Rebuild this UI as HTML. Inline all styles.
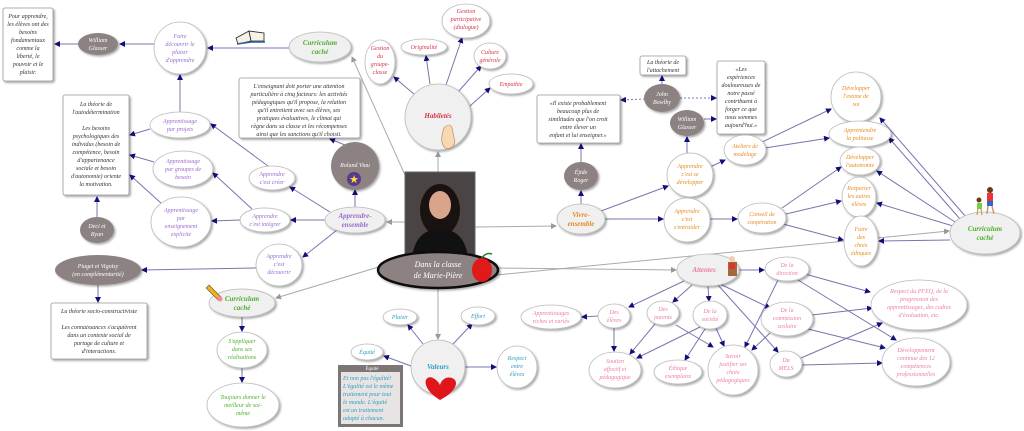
<!DOCTYPE html>
<html><head><meta charset="utf-8"><style>
html,body{margin:0;padding:0;background:#fff;}
svg{display:block}
text{font-family:"Liberation Serif",serif;font-style:italic;font-size:6px;text-anchor:middle}
.e{stroke:#7a74ae;stroke-width:1;fill:none}
.g{stroke:#aaa;stroke-width:1;fill:none}
.n{fill:#fff;stroke:#bbb;stroke-width:.8;filter:url(#sh)}
.m{fill:#f0f0f0;stroke:#bbb;stroke-width:.8;filter:url(#sh)}
.d{fill:#8c8282;filter:url(#sh)}
.b{fill:#fff;stroke:#999;stroke-width:.8;filter:url(#sh)}
.pu{fill:#9a6ad0}.re{fill:#d6324a}.or{fill:#e58a1c}.gr{fill:#4caf2a}.te{fill:#2e9cbf}.pk{fill:#ec7ca3}.w{fill:#fff}.k{fill:#333}
</style></head><body>
<svg width="1024" height="431" viewBox="0 0 1024 431" xmlns="http://www.w3.org/2000/svg">
<defs>
<filter id="sh" x="-20%" y="-20%" width="150%" height="150%"><feDropShadow dx="1.5" dy="1.5" stdDeviation="1" flood-color="#000" flood-opacity=".35"/></filter>
<marker id="a" markerWidth="6" markerHeight="6" refX="5" refY="3" orient="auto"><path d="M0,0L6,3L0,6z" fill="#10107a"/></marker>
<marker id="ga" markerWidth="6" markerHeight="6" refX="5" refY="3" orient="auto"><path d="M0,0L6,3L0,6z" fill="#999"/></marker>
</defs>

<g class="g" marker-end="url(#ga)">
<line x1="405" y1="222" x2="387" y2="222"/>
<line x1="395" y1="262" x2="276" y2="298"/>
<line x1="405" y1="175" x2="352" y2="57"/>
<line x1="438" y1="172" x2="438" y2="152"/>
<line x1="438" y1="288" x2="438" y2="339"/>
<line x1="475" y1="227" x2="556" y2="226"/>
<line x1="498" y1="268" x2="676" y2="270"/>
<line x1="496" y1="275" x2="949" y2="231"/>
</g>

<g class="e" marker-end="url(#a)">
<line x1="118" y1="44" x2="55" y2="44"/>
<line x1="154" y1="44" x2="120" y2="44"/>
<line x1="289" y1="48" x2="208" y2="48"/>
<line x1="180" y1="112" x2="180" y2="75"/>
<line x1="150" y1="129" x2="130" y2="135"/>
<line x1="154" y1="162" x2="130" y2="155"/>
<line x1="162" y1="204" x2="130" y2="175"/>
<line x1="97" y1="217" x2="97" y2="197"/>
<line x1="268" y1="166" x2="211" y2="124"/>
<line x1="252" y1="209" x2="213" y2="173"/>
<line x1="240" y1="220" x2="212" y2="221"/>
<line x1="330" y1="212" x2="290" y2="187"/>
<line x1="325" y1="220" x2="291" y2="220"/>
<line x1="337" y1="230" x2="303" y2="257"/>
<line x1="355" y1="207" x2="355" y2="190"/>
<line x1="345" y1="145" x2="330" y2="139"/>
<line x1="256" y1="268" x2="142" y2="270"/>
<line x1="98" y1="285" x2="98" y2="302"/>
<line x1="242" y1="317" x2="242" y2="331"/>
<line x1="242" y1="368" x2="242" y2="382"/>
<line x1="415" y1="95" x2="394" y2="77"/>
<line x1="430" y1="84" x2="426" y2="56"/>
<line x1="446" y1="85" x2="462" y2="38"/>
<line x1="458" y1="92" x2="481" y2="66"/>
<line x1="470" y1="106" x2="490" y2="88"/>
<line x1="423" y1="344" x2="408" y2="325"/>
<line x1="453" y1="344" x2="472" y2="324"/>
<line x1="411" y1="366" x2="384" y2="356"/>
<line x1="465" y1="367" x2="496" y2="367"/>
<line x1="581" y1="204" x2="581" y2="191"/>
<line x1="581" y1="162" x2="581" y2="144"/>
<line x1="601" y1="211" x2="668" y2="186"/>
<line x1="605" y1="219" x2="663" y2="219"/>
<line x1="687" y1="153" x2="687" y2="137"/>
<line x1="704" y1="119" x2="716" y2="119"/>
<line x1="662" y1="84" x2="662" y2="76"/>
<line x1="710" y1="167" x2="725" y2="160"/>
<line x1="762" y1="142" x2="831" y2="109"/>
<line x1="765" y1="148" x2="829" y2="138"/>
<line x1="710" y1="219" x2="737" y2="219"/>
<line x1="782" y1="208" x2="841" y2="167"/>
<line x1="786" y1="214" x2="841" y2="201"/>
<line x1="783" y1="224" x2="843" y2="240"/>
<line x1="966" y1="217" x2="880" y2="118"/>
<line x1="960" y1="219" x2="889" y2="138"/>
<line x1="955" y1="222" x2="877" y2="171"/>
<line x1="953" y1="226" x2="877" y2="203"/>
<line x1="950" y1="240" x2="879" y2="241"/>
<line x1="738" y1="270" x2="764" y2="270"/>
<line x1="684" y1="281" x2="629" y2="307"/>
<line x1="692" y1="285" x2="673" y2="302"/>
<line x1="708" y1="286" x2="709" y2="301"/>
<line x1="720" y1="284" x2="770" y2="308"/>
<line x1="718" y1="285" x2="778" y2="352"/>
<line x1="598" y1="316" x2="582" y2="317"/>
<line x1="614" y1="328" x2="614" y2="351"/>
<line x1="655" y1="324" x2="630" y2="354"/>
<line x1="676" y1="325" x2="713" y2="347"/>
<line x1="700" y1="327" x2="637" y2="358"/>
<line x1="705" y1="329" x2="685" y2="360"/>
<line x1="716" y1="328" x2="724" y2="346"/>
<line x1="778" y1="280" x2="745" y2="347"/>
<line x1="805" y1="274" x2="870" y2="292"/>
<line x1="798" y1="280" x2="896" y2="340"/>
<line x1="812" y1="315" x2="872" y2="308"/>
<line x1="808" y1="329" x2="885" y2="348"/>
<line x1="770" y1="333" x2="752" y2="350"/>
<line x1="801" y1="358" x2="882" y2="323"/>
<line x1="802" y1="365" x2="882" y2="363"/>
</g>
<g stroke="#7a74ae" stroke-dasharray="2,2" fill="none" marker-end="url(#a)">
<line x1="645" y1="99" x2="621" y2="100"/>
<line x1="680" y1="98" x2="716" y2="98"/>
</g>

<rect class="b" x="3" y="8" width="50" height="73" rx="2"/>
<text class="k"><tspan x="28" y="18">Pour apprendre,</tspan><tspan x="28" y="26">les élèves ont des</tspan><tspan x="28" y="34">besoins</tspan><tspan x="28" y="42">fondamentaux</tspan><tspan x="28" y="50">comme la</tspan><tspan x="28" y="58">liberté, le</tspan><tspan x="28" y="66">pouvoir et le</tspan><tspan x="28" y="74">plaisir.</tspan></text>
<rect class="b" x="63" y="95" width="66" height="100" rx="2"/>
<text class="k"><tspan x="96" y="106">La théorie de</tspan><tspan x="96" y="114">l'autodétermination</tspan><tspan x="96" y="130">Les besoins</tspan><tspan x="96" y="138">psychologiques des</tspan><tspan x="96" y="146">individus (besoin de</tspan><tspan x="96" y="154">compétence, besoin</tspan><tspan x="96" y="162">d'appartenance</tspan><tspan x="96" y="170">sociale et besoin</tspan><tspan x="96" y="178">d'autonomie) oriente</tspan><tspan x="96" y="186">la motivation.</tspan></text>
<rect class="b" x="239" y="78" width="121" height="60" rx="2"/>
<text class="k"><tspan x="299" y="88">L'enseignant doit porter une attention</tspan><tspan x="299" y="96">particulière à cinq facteurs: les activités</tspan><tspan x="299" y="104">pédagogiques qu'il propose, la relation</tspan><tspan x="299" y="112">qu'il entretient avec ses élèves, ses</tspan><tspan x="299" y="120">pratiques évaluatives, le climat qui</tspan><tspan x="299" y="128">règne dans sa classe et les récompenses</tspan><tspan x="299" y="136">ainsi que les sanctions qu'il choisit.</tspan></text>
<rect class="b" x="51" y="303" width="96" height="56" rx="2"/>
<text class="k"><tspan x="99" y="313">La théorie socio-constructiviste</tspan><tspan x="99" y="329">Les connaissances s'acquièrent</tspan><tspan x="99" y="337">dans un contexte social de</tspan><tspan x="99" y="345">partage de culture et</tspan><tspan x="99" y="353">d'interactions.</tspan></text>
<rect class="b" x="537" y="95" width="83" height="48" rx="2"/>
<text class="k"><tspan x="578" y="105">«Il existe probablement</tspan><tspan x="578" y="113">beaucoup plus de</tspan><tspan x="578" y="121">similitudes que l'on croit</tspan><tspan x="578" y="129">entre élever un</tspan><tspan x="578" y="137">enfant et lui enseigner.»</tspan></text>
<rect class="b" x="640" y="56" width="46" height="19" rx="2"/>
<text class="k"><tspan x="663" y="64">La théorie de</tspan><tspan x="663" y="72">l'attachement</tspan></text>
<rect class="b" x="717" y="61" width="48" height="73" rx="2"/>
<text class="k"><tspan x="741" y="71">«Les</tspan><tspan x="741" y="79">expériences</tspan><tspan x="741" y="87">douloureuses de</tspan><tspan x="741" y="95">notre passé</tspan><tspan x="741" y="103">contribuent à</tspan><tspan x="741" y="111">forger ce que</tspan><tspan x="741" y="119">nous sommes</tspan><tspan x="741" y="127">aujourd'hui.»</tspan></text>
<rect x="338" y="365" width="65" height="62" fill="#7d7676"/>
<rect x="341" y="372" width="59" height="52" fill="#e8e4e4"/>
<text x="372" y="370" style="font-size:5px;fill:#fff;font-style:normal">Équité</text>
<text class="te" style="text-anchor:start"><tspan x="343" y="380">Et non pas l'égalité!</tspan><tspan x="343" y="388">L'égalité est le même</tspan><tspan x="343" y="396">traitement pour tout</tspan><tspan x="343" y="404">le monde. L'équité</tspan><tspan x="343" y="412">est un traitement</tspan><tspan x="343" y="420">adapté à chacun.</tspan></text>

<ellipse class="d" cx="98" cy="44" rx="20" ry="11"/>
<text class="w"><tspan x="98" y="42">William</tspan><tspan x="98" y="50">Glasser</tspan></text>
<circle class="d" cx="355" cy="166" r="24"/>
<text class="w" x="355" y="167">Roland Viau</text>
<circle cx="354" cy="179" r="7" fill="#5a3a8a"/><text x="354" y="183" style="font-size:11px;fill:#ffe23a;font-style:normal">★</text>
<ellipse class="d" cx="97" cy="230" rx="17" ry="13"/>
<text class="w"><tspan x="97" y="228">Deci et</tspan><tspan x="97" y="236">Ryan</tspan></text>
<ellipse class="d" cx="98" cy="270" rx="43" ry="15"/>
<text class="w"><tspan x="98" y="268">Piaget et Vigotsy</tspan><tspan x="98" y="276">(en complémentarité)</tspan></text>
<ellipse class="d" cx="662" cy="98" rx="18" ry="14"/>
<text class="w"><tspan x="662" y="96">John</tspan><tspan x="662" y="104">Bowlby</tspan></text>
<ellipse class="d" cx="687" cy="123" rx="17" ry="13"/>
<text class="w"><tspan x="687" y="121">William</tspan><tspan x="687" y="129">Glasser</tspan></text>
<ellipse class="d" cx="581" cy="176" rx="17" ry="14"/>
<text class="w"><tspan x="581" y="174">Éjide</tspan><tspan x="581" y="182">Roger</tspan></text>

<circle class="n" cx="180" cy="48" r="26"/>
<text class="pu"><tspan x="180" y="38">Faire</tspan><tspan x="180" y="46">découvrir le</tspan><tspan x="180" y="54">plaisir</tspan><tspan x="180" y="62">d'apprendre</tspan></text>
<ellipse class="n" cx="180" cy="125" rx="30" ry="13"/>
<text class="pu"><tspan x="180" y="123">Apprentissage</tspan><tspan x="180" y="131">par projets</tspan></text>
<ellipse class="n" cx="183" cy="169" rx="30" ry="18"/>
<text class="pu"><tspan x="183" y="163">Apprentissage</tspan><tspan x="183" y="171">par groupes de</tspan><tspan x="183" y="179">besoin</tspan></text>
<ellipse class="n" cx="181" cy="222" rx="30" ry="25"/>
<text class="pu"><tspan x="181" y="212">Apprentissage</tspan><tspan x="181" y="220">par</tspan><tspan x="181" y="228">enseignement</tspan><tspan x="181" y="236">explicite</tspan></text>
<ellipse class="n" cx="272" cy="178" rx="23" ry="12"/>
<text class="pu"><tspan x="272" y="176">Apprendre</tspan><tspan x="272" y="184">c'est créer</tspan></text>
<ellipse class="n" cx="265" cy="220" rx="25" ry="12"/>
<text class="pu"><tspan x="265" y="218">Apprendre</tspan><tspan x="265" y="226">c'est intégrer</tspan></text>
<ellipse class="n" cx="279" cy="265" rx="23" ry="21"/>
<text class="pu"><tspan x="279" y="258">Apprendre</tspan><tspan x="279" y="266">c'est</tspan><tspan x="279" y="274">découvrir</tspan></text>
<ellipse class="m" cx="355" cy="220" rx="30" ry="13"/>
<text class="pu" style="font-size:7px;font-weight:bold"><tspan x="355" y="218">Apprendre-</tspan><tspan x="355" y="227">ensemble</tspan></text>

<ellipse class="m" cx="320" cy="47" rx="31" ry="15"/>
<text class="gr" style="font-size:7px;font-weight:bold"><tspan x="320" y="45">Curriculum</tspan><tspan x="320" y="54">caché</tspan></text>
<ellipse class="m" cx="242" cy="303" rx="33" ry="14"/>
<text class="gr" style="font-size:7px;font-weight:bold"><tspan x="242" y="301">Curriculum</tspan><tspan x="242" y="310">caché</tspan></text>
<ellipse class="n" cx="242" cy="350" rx="25" ry="18"/>
<text class="gr"><tspan x="242" y="343">S'appliquer</tspan><tspan x="242" y="351">dans ses</tspan><tspan x="242" y="359">réalisations</tspan></text>
<ellipse class="n" cx="243" cy="405" rx="36" ry="22"/>
<text class="gr"><tspan x="243" y="399">Toujours donner le</tspan><tspan x="243" y="407">meilleur de soi-</tspan><tspan x="243" y="415">même</tspan></text>
<ellipse class="m" cx="985" cy="233" rx="35" ry="21"/>
<text class="gr" style="font-size:7px;font-weight:bold"><tspan x="985" y="231">Curriculum</tspan><tspan x="985" y="240">caché</tspan></text>

<path d="M236,38 L249,31 L251,41 L238,44z" fill="#f6f2e4" stroke="#223" stroke-width=".8"/>
<path d="M251,41 L249,31 L264,33 L264,41z" fill="#f6f2e4" stroke="#223" stroke-width=".8"/>
<path d="M237,44 L251,42 L265,42" stroke="#2a5aa0" stroke-width="1.5" fill="none"/>
<path d="M209,285 L221,297 L218,300 L206,288z" fill="#f0b020" stroke="#553" stroke-width=".6"/>
<circle cx="220" cy="299" r="2.5" fill="#f08a9a"/>
<circle cx="990" cy="190" r="3" fill="#6a3a20"/><rect x="987" y="193" width="6" height="8" fill="#e33"/><rect x="987" y="201" width="6" height="5" fill="#36c"/><line x1="988" y1="206" x2="987" y2="214" stroke="#c96" stroke-width="1.5"/><line x1="992" y1="206" x2="994" y2="214" stroke="#c96" stroke-width="1.5"/>
<circle cx="979" cy="200" r="2.5" fill="#6a3a20"/><rect x="977" y="203" width="5" height="6" fill="#7c4"/><line x1="978" y1="209" x2="977" y2="215" stroke="#c96" stroke-width="1.2"/><line x1="981" y1="209" x2="982" y2="215" stroke="#c96" stroke-width="1.2"/>

<circle class="m" cx="438" cy="117" r="33"/>
<text class="re" x="438" y="118" style="font-size:7px;font-weight:bold">Habiletés</text>
<path d="M444,128 q6,-6 8,0 l3,14 q-2,8 -10,6 q-6,-6 -1,-20z" fill="#f8d8b0" stroke="#b08060" stroke-width=".6"/>
<ellipse class="n" cx="380" cy="62" rx="15" ry="22"/>
<text class="re"><tspan x="380" y="50">Gestion</tspan><tspan x="380" y="58">du</tspan><tspan x="380" y="66">groupe-</tspan><tspan x="380" y="74">classe</tspan></text>
<ellipse class="n" cx="424" cy="47" rx="23" ry="8"/>
<text class="re" x="424" y="49">Originalité</text>
<ellipse class="n" cx="466" cy="21" rx="24" ry="17"/>
<text class="re"><tspan x="466" y="13">Gestion</tspan><tspan x="466" y="21">participative</tspan><tspan x="466" y="29">(dialogue)</tspan></text>
<ellipse class="n" cx="490" cy="56" rx="16" ry="13"/>
<text class="re"><tspan x="490" y="54">Culture</tspan><tspan x="490" y="62">générale</tspan></text>
<ellipse class="n" cx="511" cy="84" rx="22" ry="10"/>
<text class="re" x="511" y="86">Empathie</text>

<rect x="405" y="172" width="70" height="85" fill="#4a4444" stroke="#666"/>
<ellipse cx="440" cy="210" rx="20" ry="26" fill="#1a1210"/>
<ellipse cx="440" cy="205" rx="11" ry="14" fill="#d9a58a"/>
<path d="M412,257 q4,-28 28,-28 q24,0 28,28z" fill="#111"/>
<ellipse cx="438" cy="270" rx="60" ry="18" fill="#8c8282" stroke="#111" stroke-width="2.5" filter="url(#sh)"/>
<text class="w" style="font-size:8px"><tspan x="438" y="267">Dans la classe</tspan><tspan x="438" y="278">de Marie-Pière</tspan></text>
<ellipse cx="482" cy="270" rx="10" ry="12" fill="#e01a1a"/>
<path d="M482,258 q4,-6 10,-4" stroke="#2a7a2a" stroke-width="1.5" fill="none"/>

<circle class="m" cx="438" cy="367" r="27"/>
<text class="te" x="438" y="369" style="font-size:7px;font-weight:bold">Valeurs</text>
<path d="M440,400 C420,388 424,374 433,378 C437,380 439,383 440,385 C441,381 445,376 452,378 C460,381 456,392 440,400z" fill="#e0161c"/>
<ellipse class="n" cx="400" cy="317" rx="17" ry="8"/><text class="te" x="400" y="319">Plaisir</text>
<ellipse class="n" cx="478" cy="316" rx="17" ry="9"/><text class="te" x="478" y="318">Effort</text>
<ellipse class="n" cx="367" cy="352" rx="16" ry="8"/><text class="te" x="367" y="354">Équité</text>
<ellipse class="n" cx="517" cy="367" rx="20" ry="21"/>
<text class="te"><tspan x="517" y="360">Respect</tspan><tspan x="517" y="368">entre</tspan><tspan x="517" y="376">élèves</tspan></text>

<ellipse class="m" cx="581" cy="219" rx="24" ry="15"/>
<text class="or" style="font-size:7px;font-weight:bold"><tspan x="581" y="217">Vivre-</tspan><tspan x="581" y="226">ensemble</tspan></text>
<ellipse class="n" cx="690" cy="175" rx="23" ry="22"/>
<text class="or"><tspan x="690" y="168">Apprendre</tspan><tspan x="690" y="176">c'est se</tspan><tspan x="690" y="184">développer</tspan></text>
<ellipse class="n" cx="687" cy="220" rx="23" ry="22"/>
<text class="or"><tspan x="687" y="213">Apprendre</tspan><tspan x="687" y="221">c'est</tspan><tspan x="687" y="229">s'entraider</tspan></text>
<ellipse class="n" cx="745" cy="150" rx="21" ry="15"/>
<text class="or"><tspan x="745" y="148">Ateliers de</tspan><tspan x="745" y="156">modelage</tspan></text>
<ellipse class="n" cx="762" cy="218" rx="24" ry="15"/>
<text class="or"><tspan x="762" y="216">Conseil de</tspan><tspan x="762" y="224">coopération</tspan></text>
<ellipse class="n" cx="856" cy="97" rx="25" ry="25"/>
<text class="or"><tspan x="856" y="90">Développer</tspan><tspan x="856" y="98">l'estime de</tspan><tspan x="856" y="106">soi</tspan></text>
<ellipse class="n" cx="860" cy="134" rx="31" ry="13"/>
<text class="or"><tspan x="860" y="132">Apprentendre</tspan><tspan x="860" y="140">la politesse</tspan></text>
<ellipse class="n" cx="860" cy="161" rx="20" ry="14"/>
<text class="or"><tspan x="860" y="159">Développer</tspan><tspan x="860" y="167">l'autonomie</tspan></text>
<ellipse class="n" cx="859" cy="197" rx="17" ry="20"/>
<text class="or"><tspan x="859" y="190">Respecter</tspan><tspan x="859" y="198">les autres</tspan><tspan x="859" y="206">élèves</tspan></text>
<ellipse class="n" cx="861" cy="241" rx="17" ry="25"/>
<text class="or"><tspan x="861" y="231">Faire</tspan><tspan x="861" y="239">des</tspan><tspan x="861" y="247">choix</tspan><tspan x="861" y="255">éthiques</tspan></text>

<ellipse class="m" cx="708" cy="270" rx="31" ry="16"/>
<text class="pk" x="704" y="272" style="font-size:7px;font-weight:bold">Attentes</text>
<rect x="728" y="262" width="9" height="14" fill="#a06a3a"/><circle cx="732" cy="259" r="3" fill="#f0d0b0"/><rect x="729" y="263" width="6" height="6" fill="#d33"/>
<ellipse class="n" cx="787" cy="269" rx="22" ry="12"/>
<text class="pk"><tspan x="787" y="267">De la</tspan><tspan x="787" y="275">direction</tspan></text>
<ellipse class="n" cx="614" cy="316" rx="16" ry="12"/>
<text class="pk"><tspan x="614" y="314">Des</tspan><tspan x="614" y="322">élèves</tspan></text>
<ellipse class="n" cx="551" cy="317" rx="30" ry="12"/>
<text class="pk"><tspan x="551" y="315">Apprentissages</tspan><tspan x="551" y="323">riches et variés</tspan></text>
<ellipse class="n" cx="663" cy="313" rx="16" ry="12"/>
<text class="pk"><tspan x="663" y="311">Des</tspan><tspan x="663" y="319">parents</tspan></text>
<ellipse class="n" cx="710" cy="315" rx="17" ry="14"/>
<text class="pk"><tspan x="710" y="313">De la</tspan><tspan x="710" y="321">société</tspan></text>
<ellipse class="n" cx="787" cy="319" rx="26" ry="17"/>
<text class="pk"><tspan x="787" y="312">De la</tspan><tspan x="787" y="320">commission</tspan><tspan x="787" y="328">scolaire</tspan></text>
<ellipse class="n" cx="919" cy="305" rx="48" ry="25"/>
<text class="pk"><tspan x="919" y="293">Respect du PFEQ, de la</tspan><tspan x="919" y="301">progression des</tspan><tspan x="919" y="309">apprentissages, des cadres</tspan><tspan x="919" y="317">d'évaluation, etc.</tspan></text>
<ellipse class="n" cx="916" cy="362" rx="34" ry="24"/>
<text class="pk"><tspan x="916" y="352">Développement</tspan><tspan x="916" y="360">continue des 12</tspan><tspan x="916" y="368">compétences</tspan><tspan x="916" y="376">professionnelles</tspan></text>
<ellipse class="n" cx="786" cy="364" rx="16" ry="13"/>
<text class="pk"><tspan x="786" y="362">Du</tspan><tspan x="786" y="370">MELS</tspan></text>
<ellipse class="n" cx="615" cy="370" rx="26" ry="18"/>
<text class="pk"><tspan x="615" y="363">Soutien</tspan><tspan x="615" y="371">affectif et</tspan><tspan x="615" y="379">pédagogique</tspan></text>
<ellipse class="n" cx="678" cy="372" rx="24" ry="12"/>
<text class="pk"><tspan x="678" y="370">Éthique</tspan><tspan x="678" y="378">exemplaire</tspan></text>
<ellipse class="n" cx="733" cy="370" rx="25" ry="25"/>
<text class="pk"><tspan x="733" y="358">Savoir</tspan><tspan x="733" y="366">justifier ses</tspan><tspan x="733" y="374">choix</tspan><tspan x="733" y="382">pédagogiques</tspan></text>
</svg>
</body></html>
